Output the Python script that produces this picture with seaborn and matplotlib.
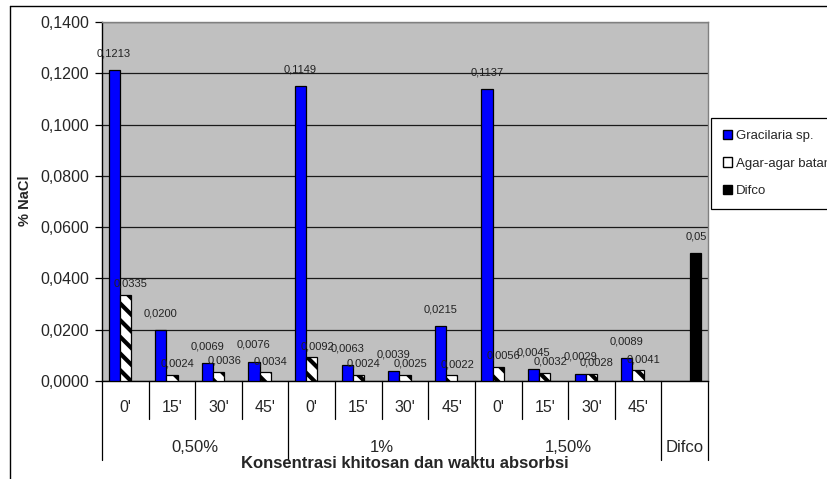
import matplotlib
matplotlib.use("Agg")
import matplotlib.pyplot as plt
from matplotlib.patches import Patch
from matplotlib.lines import Line2D
import pandas as pd
import seaborn as sns

# data
times = ["0'", "15'", "30'", "45'"]
groups = ["0,50%", "1%", "1,50%"]
gracilaria = [0.1213, 0.0200, 0.0069, 0.0076,
              0.1149, 0.0063, 0.0039, 0.0215,
              0.1137, 0.0045, 0.0029, 0.0089]
agar = [0.0335, 0.0024, 0.0036, 0.0034,
        0.0092, 0.0024, 0.0025, 0.0022,
        0.0056, 0.0032, 0.0028, 0.0041]
difco = [0.05]
series = ["Gracilaria sp.", "Agar-agar batang", "Difco"]
colors = {"Gracilaria sp.": "#0000FF", "Agar-agar batang": "white", "Difco": "black"}
yticks = [0.0, 0.02, 0.04, 0.06, 0.08, 0.10, 0.12, 0.14]

keys = [g + " " + t for g in groups for t in times] + ["Difco"]
sub_labels = times * 3 + [""]

rows = []
for k, v in zip(keys[:12], gracilaria):
    rows.append((k, series[0], v))
for k, v in zip(keys[:12], agar):
    rows.append((k, series[1], v))
rows.append(("Difco", series[2], difco[0]))
df = pd.DataFrame(rows, columns=["kategori", "seri", "nilai"])

sns.set_theme(style="white")
plt.rcParams['font.family'] = ['Liberation Sans', 'DejaVu Sans']
plt.rcParams['hatch.linewidth'] = 3.0
plt.rcParams['hatch.color'] = 'black'

W, H = 828, 479
fig = plt.figure(figsize=(W / 100, H / 100), dpi=100)
ax_l, ax_r, ax_t, ax_b = 102, 708, 22, 381
ax = fig.add_axes([ax_l / W, 1 - ax_b / H, (ax_r - ax_l) / W, (ax_b - ax_t) / H])
ax_h = ax_b - ax_t

sns.barplot(data=df, x="kategori", y="nilai", hue="seri", order=keys, hue_order=series,
            palette=colors, width=0.72, dodge=True, edgecolor="black", linewidth=0.9,
            errorbar=None, legend=False, saturation=1, ax=ax, zorder=3)

for bar in ax.containers[1]:
    bar.set_hatch("\\\\")
    bar.set_edgecolor("black")

# data labels
def fmt(v, nd=4):
    return f"{v:.{nd}f}".replace(".", ",")

for bar, v in zip(ax.containers[0], gracilaria):
    ax.annotate(fmt(v), (bar.get_x() + bar.get_width() / 2, bar.get_height()),
                xytext=(0, 12), textcoords="offset points", ha="center", va="center",
                fontsize=8, color="#222222", zorder=5)
for bar, v in zip(ax.containers[1], agar):
    ax.annotate(fmt(v), (bar.get_x() + bar.get_width() / 2, bar.get_height()),
                xytext=(4, 8), textcoords="offset points", ha="center", va="center",
                fontsize=8, color="#222222", zorder=5)
for bar, v in zip(ax.containers[2], difco):
    ax.annotate(fmt(v, 2), (bar.get_x() + bar.get_width() / 2, bar.get_height()),
                xytext=(0, 12), textcoords="offset points", ha="center", va="center",
                fontsize=8, color="#222222", zorder=5)

ax.set_facecolor("#C0C0C0")
ax.set_xlim(-0.5, 12.5)
ax.set_ylim(0, 0.14)
ax.set_yticks(yticks)
ax.set_yticklabels([fmt(v) for v in yticks], fontsize=11.5)
ax.yaxis.grid(True, color="#1a1a1a", linewidth=0.9)
ax.set_axisbelow(True)
ax.tick_params(axis="y", left=True, length=5, width=0.9, color="black", pad=4)
for s in ["top", "right"]:
    ax.spines[s].set_color("#808080")
    ax.spines[s].set_linewidth(1)
for s in ["left", "bottom"]:
    ax.spines[s].set_color("black")
    ax.spines[s].set_linewidth(1)

ax.set_xticks(range(13))
ax.set_xticklabels(sub_labels, fontsize=11.5)
ax.tick_params(axis="x", length=0, pad=14)
ax.set_xlabel("")
ax.set_ylabel("")

# category dividers
trans = ax.get_xaxis_transform()
group_edges = [-0.5, 3.5, 7.5, 11.5, 12.5]
for i in range(14):
    x = i - 0.5
    depth = 79 if x in group_edges else 38
    ax.plot([x, x], [0, -depth / ax_h], transform=trans, color="black",
            linewidth=0.9, clip_on=False)

group_labels = groups + ["Difco"]
group_centers = [1.5, 5.5, 9.5, 12]
for lab, c in zip(group_labels, group_centers):
    ax.text(c, -(447 - ax_b) / ax_h, lab, transform=trans, ha="center", va="center",
            fontsize=12)

fig.text((ax_l + ax_r) / 2 / W, 1 - 463 / H, "Konsentrasi khitosan dan waktu absorbsi",
         ha="center", va="center", fontsize=12, fontweight="bold")
fig.text(25 / W, 1 - 201 / H, "% NaCl", rotation=90, ha="center", va="center",
         fontsize=10.5, fontweight="bold")

handles = [Patch(facecolor=colors[s], edgecolor="black", linewidth=1) for s in series]
leg = fig.legend(handles, series, loc="upper left", bbox_to_anchor=(711 / W, 1 - 118 / H),
                 bbox_transform=fig.transFigure, frameon=True, fancybox=False,
                 edgecolor="black", framealpha=1, fontsize=9.5, handlelength=0.7,
                 handleheight=0.7, handletextpad=0.3, labelspacing=1.15,
                 borderpad=0.9, borderaxespad=0)
leg.get_frame().set_linewidth(0.9)

# outer chart border
fig.add_artist(Line2D([10 / W, 10 / W], [0, 1 - 6 / H], color="black", linewidth=1,
                      transform=fig.transFigure))
fig.add_artist(Line2D([10 / W, 1], [1 - 6 / H, 1 - 6 / H], color="black", linewidth=1,
                      transform=fig.transFigure))

fig.savefig("out.png", dpi=100)
